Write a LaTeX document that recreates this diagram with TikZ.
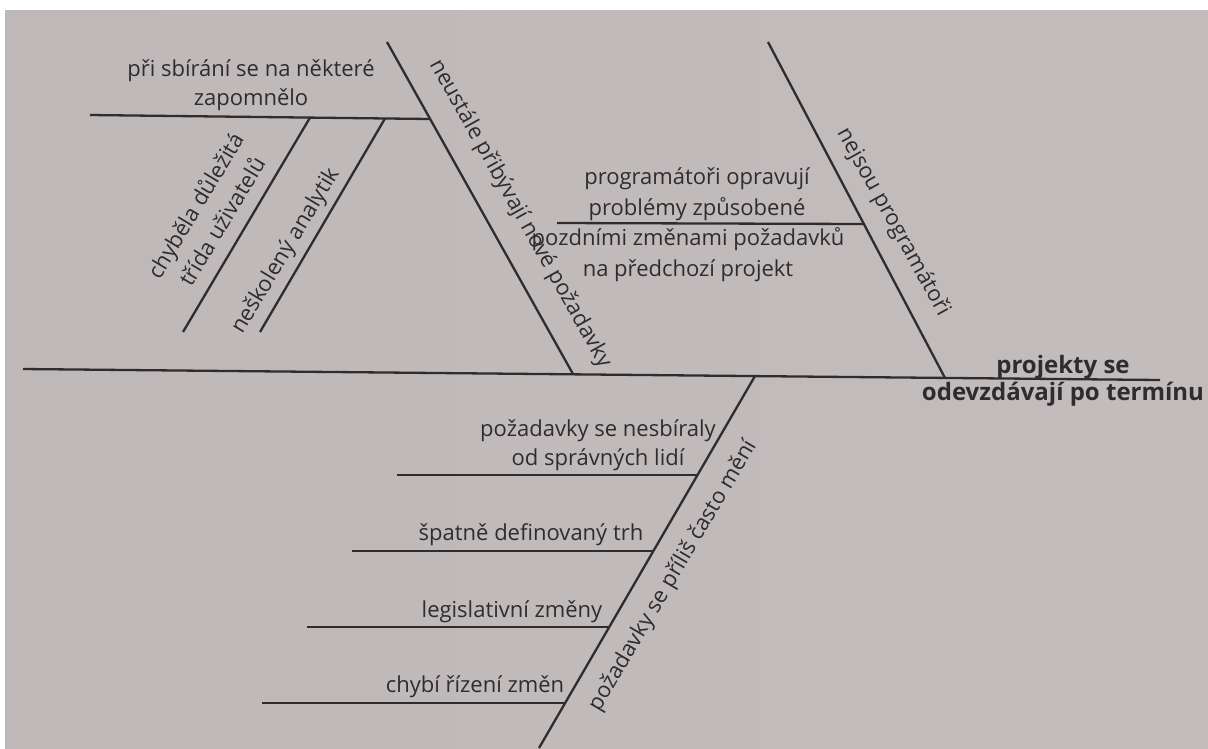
\documentclass[tikz,border=0pt]{standalone}
\usepackage{fontspec}
\setmainfont{Open Sans}
\definecolor{paperL}{RGB}{190,184,185}
\definecolor{paperM}{RGB}{214,211,208}
\definecolor{paperR}{RGB}{194,188,189}
\definecolor{ink}{RGB}{45,45,45}
\begin{document}
\begin{tikzpicture}[x=1pt,y=-1pt,
  bone/.style={draw=ink,line width=2.3pt},
  lab/.style={text=ink,inner sep=0pt,align=center,font=\fontsize{22}{29}\selectfont},
  headlab/.style={text=ink,inner sep=0pt,align=center,font=\fontsize{24}{27}\selectfont\bfseries}]
\useasboundingbox (0,0) rectangle (1208,748);
\fill[white] (0,0) rectangle (1208,748);
\shade[left color=paperL,middle color=paperM,right color=paperR] (5,10) rectangle (1208,748);
% coordinates
\coordinate (spL) at (23,369);  \coordinate (spR) at (1160,380);
\coordinate (b1t) at (387,42);  \coordinate (b1b) at (573,374);
\coordinate (b2t) at (768,42);  \coordinate (b2b) at (945,378);
\coordinate (b3t) at (755,376); \coordinate (b3b) at (539,748);
\coordinate (s1l) at (90,115);  \coordinate (s1r) at (430,119);
\coordinate (c1b) at (183,332); \coordinate (c1t) at (310,117.6);
\coordinate (c2b) at (260,332); \coordinate (c2t) at (385,118.5);
\coordinate (s2l) at (557,223); \coordinate (s2r) at (864,224);
\coordinate (t1l) at (397,475); \coordinate (t1r) at (698,475);
\coordinate (t2l) at (352,551); \coordinate (t2r) at (654,551);
\coordinate (t3l) at (307,627); \coordinate (t3r) at (610,627);
\coordinate (t4l) at (262,703); \coordinate (t4r) at (565,703);
% lines
\draw[bone] (spL) -- (spR);
\draw[bone] (b1t) -- (b1b);
\draw[bone] (b2t) -- (b2b);
\draw[bone] (b3t) -- (b3b);
\draw[bone] (s1l) -- (s1r);
\draw[bone] (c1b) -- (c1t);
\draw[bone] (c2b) -- (c2t);
\draw[bone] (s2l) -- (s2r);
\draw[bone] (t1l) -- (t1r);
\draw[bone] (t2l) -- (t2r);
\draw[bone] (t3l) -- (t3r);
\draw[bone] (t4l) -- (t4r);
% labels
\node[lab,anchor=south] (l1) at (251,111) {při sbírání se na některé\\zapomnělo};
\node[lab,anchor=south,font=\fontsize{22}{31}\selectfont] (l2) at (697,221) {programátoři opravují\\problémy způsobené};
\node[lab,anchor=north,font=\fontsize{22}{31}\selectfont] (l3) at (688,227) {pozdními změnami požadavků\\na předchozí projekt};
\node[lab,anchor=south] (l4) at (598,471) {požadavky se nesbíraly\\od správných lidí};
\node[lab,anchor=base] (l5) at (531,540) {špatně definovaný trh};
\node[lab,anchor=base] (l6) at (512,617) {legislativní změny};
\node[lab,anchor=base] (l7) at (475,692) {chybí řízení změn};
\node[lab,rotate=-60.7] (r1) at (520,214) {neustále přibývají nové požadavky};
\node[lab,rotate=-61] (r2) at (893,222) {nejsou programátoři};
\node[lab,rotate=59.5] (r3) at (673,576) {požadavky se příliš často mění};
\node[lab,rotate=59,font=\fontsize{22}{31}\selectfont] (r4) at (208,213) {chyběla důležitá\\třída uživatelů};
\node[lab,rotate=59] (r5) at (286,251) {neškolený analytik};
\node[headlab,anchor=north] (head) at (1063,355) {projekty se\\odevzdávají po termínu};
\end{tikzpicture}
\end{document}
